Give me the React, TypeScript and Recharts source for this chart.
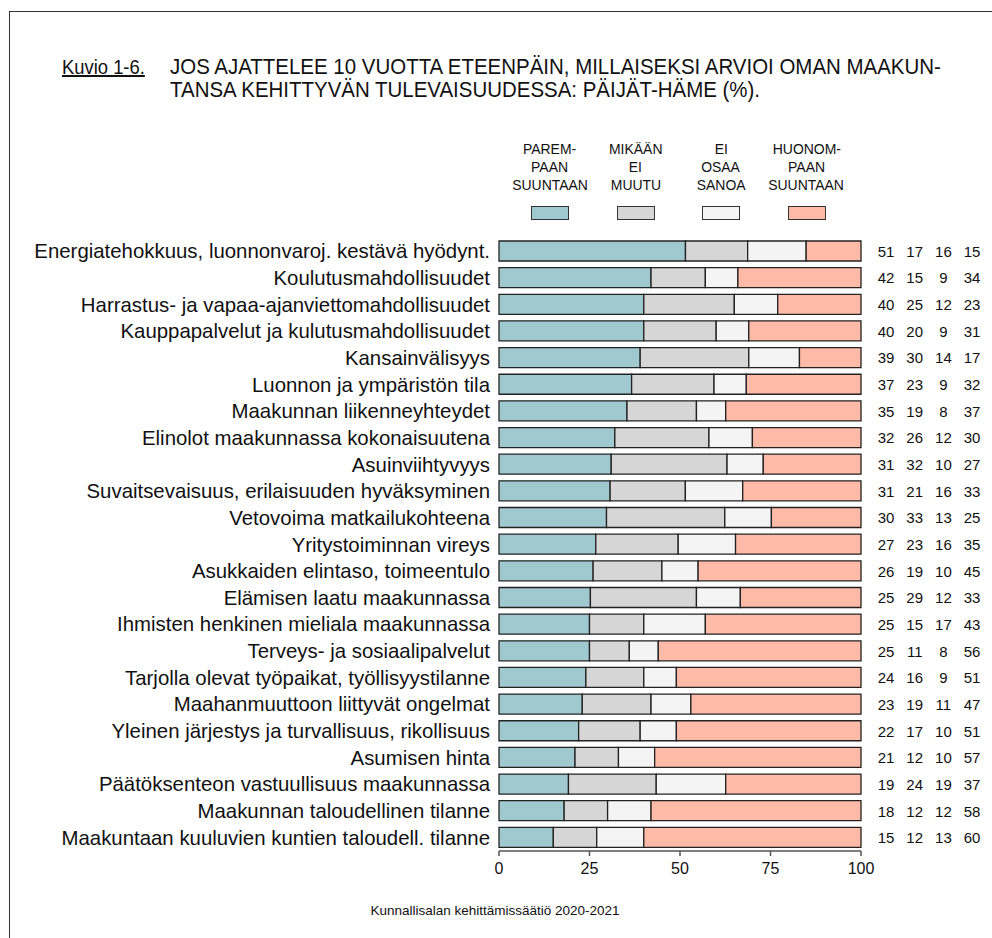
import React from "react";
import { Bar, BarChart, XAxis, YAxis } from "recharts";

const categories = [
  "Energiatehokkuus, luonnonvaroj. kestävä hyödynt.",
  "Koulutusmahdollisuudet",
  "Harrastus- ja vapaa-ajanviettomahdollisuudet",
  "Kauppapalvelut ja kulutusmahdollisuudet",
  "Kansainvälisyys",
  "Luonnon ja ympäristön tila",
  "Maakunnan liikenneyhteydet",
  "Elinolot maakunnassa kokonaisuutena",
  "Asuinviihtyvyys",
  "Suvaitsevaisuus, erilaisuuden hyväksyminen",
  "Vetovoima matkailukohteena",
  "Yritystoiminnan vireys",
  "Asukkaiden elintaso, toimeentulo",
  "Elämisen laatu maakunnassa",
  "Ihmisten henkinen mieliala maakunnassa",
  "Terveys- ja sosiaalipalvelut",
  "Tarjolla olevat työpaikat, työllisyystilanne",
  "Maahanmuuttoon liittyvät ongelmat",
  "Yleinen järjestys ja turvallisuus, rikollisuus",
  "Asumisen hinta",
  "Päätöksenteon vastuullisuus maakunnassa",
  "Maakunnan taloudellinen tilanne",
  "Maakuntaan kuuluvien kuntien taloudell. tilanne",
];

const paremmaan = [51, 42, 40, 40, 39, 37, 35, 32, 31, 31, 30, 27, 26, 25, 25, 25, 24, 23, 22, 21, 19, 18, 15];
const eiMuutu = [17, 15, 25, 20, 30, 23, 19, 26, 32, 21, 33, 23, 19, 29, 15, 11, 16, 19, 17, 12, 24, 12, 12];
const eiOsaa = [16, 9, 12, 9, 14, 9, 8, 12, 10, 16, 13, 16, 10, 12, 17, 8, 9, 11, 10, 10, 19, 12, 13];
const huonompaan = [15, 34, 23, 31, 17, 32, 37, 30, 27, 33, 25, 35, 45, 33, 43, 56, 51, 47, 51, 57, 37, 58, 60];

const xTicks = [0, 25, 50, 75, 100];

const series = [
  { key: "p", label: ["PAREM-", "PAAN", "SUUNTAAN"], color: "#9FC9CF" },
  { key: "m", label: ["MIKÄÄN", "EI", "MUUTU"], color: "#D6D6D6" },
  { key: "e", label: ["EI", "OSAA", "SANOA"], color: "#F4F4F4" },
  { key: "h", label: ["HUONOM-", "PAAN", "SUUNTAAN"], color: "#FFBBA8" },
];

const valueCols = [paremmaan, eiMuutu, eiOsaa, huonompaan];

const data = categories.map((name, i) => ({
  name,
  p: paremmaan[i],
  m: eiMuutu[i],
  e: eiOsaa[i],
  h: huonompaan[i],
}));

const sans = "'Liberation Sans', Arial, Helvetica, sans-serif";

// no narrow face installed, so squeeze the regular one
function Narrow({
  children,
  origin = "left",
  scale = 0.82,
}: {
  children: React.ReactNode;
  origin?: string;
  scale?: number;
}) {
  return (
    <span
      style={{
        display: "inline-block",
        whiteSpace: "nowrap",
        transform: `scaleX(${scale})`,
        transformOrigin: origin,
      }}
    >
      {children}
    </span>
  );
}

function RowTick(props: any) {
  const { x, y, payload, index } = props;
  return (
    <g>
      <text
        x={x - 3}
        y={y}
        textAnchor="end"
        dominantBaseline="central"
        fontSize={20.4}
        fontFamily={sans}
        fill="#111"
      >
        {payload.value}
      </text>
      {valueCols.map((col, j) => (
        <text
          key={j}
          x={886 + j * 28.7}
          y={y}
          textAnchor="middle"
          dominantBaseline="central"
          fontSize={15}
          fontFamily={sans}
          fill="#111"
        >
          {col[index]}
        </text>
      ))}
    </g>
  );
}

export default function App() {
  return (
    <div
      style={{
        position: "absolute",
        left: 0,
        top: 0,
        width: 992,
        height: 938,
        background: "#fff",
        overflow: "hidden",
        fontFamily: sans,
      }}
    >
      <div
        style={{
          position: "absolute",
          left: 9,
          top: 11,
          width: 1000,
          height: 1000,
          borderLeft: "1.5px solid #333",
          borderTop: "1.5px solid #333",
        }}
      />
      <div
        style={{
          position: "absolute",
          left: 62,
          top: 56,
          fontSize: 20,
          lineHeight: "22px",
          color: "#111",
        }}
      >
        <Narrow scale={0.92}>
          <span style={{ textDecoration: "underline" }}>Kuvio 1-6.</span>
        </Narrow>
      </div>
      <div
        style={{
          position: "absolute",
          left: 170,
          top: 55,
          fontSize: 22,
          lineHeight: "23px",
          color: "#111",
        }}
      >
        <Narrow scale={0.93}>JOS AJATTELEE 10 VUOTTA ETEENPÄIN, MILLAISEKSI ARVIOI OMAN MAAKUN-</Narrow>
        <br />
        <Narrow scale={0.93}>TANSA KEHITTYVÄN TULEVAISUUDESSA: PÄIJÄT-HÄME (%).</Narrow>
      </div>

      {series.map((s, i) => (
        <div
          key={s.key}
          style={{
            position: "absolute",
            left: 550 + i * 85.5 - 50,
            top: 140,
            width: 100,
            textAlign: "center",
            fontSize: 15.5,
            lineHeight: "18px",
            color: "#111",
          }}
        >
          {s.label.map((l) => (
            <div key={l}>
              <Narrow origin="center" scale={0.9}>
                {l}
              </Narrow>
            </div>
          ))}
          <div
            style={{
              margin: "12px auto 0",
              width: 36,
              height: 12,
              background: s.color,
              border: "1px solid #333",
            }}
          />
        </div>
      ))}

      <div style={{ position: "absolute", left: 0, top: 0 }}>
        <BarChart
          width={992}
          height={938}
          data={data}
          layout="vertical"
          stackOffset="expand"
          barSize={20}
          margin={{ top: 238, right: 131, bottom: 56, left: 0 }}
        >
          <XAxis
            type="number"
            domain={[0, 1]}
            ticks={xTicks.map((t) => t / 100)}
            tickFormatter={(v: number) => String(Math.round(v * 100))}
            axisLine={{ stroke: "#555", strokeWidth: 1.5 }}
            tickLine={{ stroke: "#555", strokeWidth: 1.5 }}
            tickSize={5}
            tickMargin={7}
            height={31}
            tick={{ fontSize: 16, fill: "#111", fontFamily: sans }}
          />
          <YAxis
            type="category"
            dataKey="name"
            width={499}
            axisLine={false}
            tickLine={false}
            tickSize={6}
            tickMargin={0}
            interval={0}
            tick={<RowTick />}
          />
          {series.map((s) => (
            <Bar
              key={s.key}
              dataKey={s.key}
              stackId="a"
              fill={s.color}
              stroke="#222"
              strokeWidth={1.3}
              isAnimationActive={false}
            />
          ))}
        </BarChart>
      </div>

      <div
        style={{
          position: "absolute",
          left: 290,
          width: 410,
          top: 903,
          textAlign: "center",
          fontSize: 13.5,
          color: "#111",
        }}
      >
        Kunnallisalan kehittämissäätiö 2020-2021
      </div>
    </div>
  );
}
